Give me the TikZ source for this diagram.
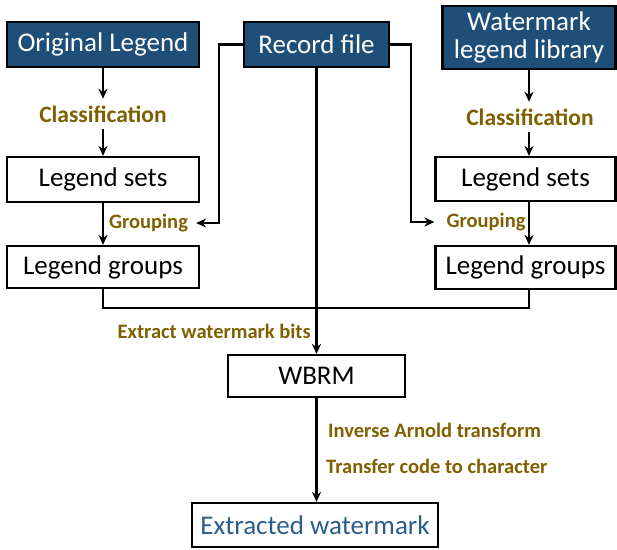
\documentclass[tikz,border=0pt]{standalone}
\usepackage{fontspec}
\setmainfont{Carlito}
\usetikzlibrary{arrows.meta,calc}
\definecolor{boxblue}{HTML}{1F4E79}
\definecolor{lblgold}{HTML}{7F6000}
\definecolor{txtblue}{HTML}{2B5C8C}
\begin{document}
\begin{tikzpicture}[x=1pt,y=-1pt,
  darkbox/.style={draw=black,line width=2.2pt,fill=boxblue,text=white,font=\fontsize{27}{27}\selectfont,inner sep=0pt,align=center},
  whitebox/.style={draw=black,line width=2.2pt,fill=white,text=black,font=\fontsize{27}{27}\selectfont,inner sep=0pt,align=center},
  lbl/.style={text=lblgold,font=\bfseries\fontsize{20.5}{20.5}\selectfont,inner sep=0pt},
  biglbl/.style={text=lblgold,font=\bfseries\fontsize{23.5}{23.5}\selectfont,inner sep=0pt,minimum height=30pt},
  conn/.style={line width=2.2pt,draw=black},
  arr/.style={conn,-{Stealth[length=10pt,width=9pt]}}
]
\useasboundingbox (0,0) rectangle (617,549);
% boxes
\node[darkbox,minimum width=192pt,minimum height=45pt] (OL) at (103,44.5) {Original Legend};
\node[darkbox,minimum width=145pt,minimum height=45pt] (RF) at (316.5,44.5) {Record file};
\node[darkbox,minimum width=173pt,minimum height=63pt,font=\fontsize{27}{28}\selectfont] (WL) at (529,37.5) {Watermark\\legend library};
\node[whitebox,minimum width=192pt,minimum height=45pt] (LSL) at (103,179.5) {Legend sets};
\node[whitebox,minimum width=192pt,minimum height=42pt] (LGL) at (103,267) {Legend groups};
\node[whitebox,minimum width=180pt,minimum height=44pt] (LSR) at (525.5,179) {Legend sets};
\node[whitebox,minimum width=180pt,minimum height=43pt] (LGR) at (525.5,267.5) {Legend groups};
\node[whitebox,minimum width=177pt,minimum height=42pt] (WB) at (316.5,376) {WBRM};
\node[whitebox,minimum width=246pt,minimum height=44pt,text=txtblue] (EW) at (315,525) {Extracted watermark};
% labels
\node[biglbl] (CL) at (103,114) {Classification};
\node[biglbl] (CR) at (530,117) {Classification};
\node[lbl,inner xsep=8pt] (GL) at (148.5,223) {Grouping};
\node[lbl,inner xsep=12pt] (GR) at (486,222) {Grouping};
\node[lbl,anchor=east] (EX) at (311,331) {Extract watermark bits};
\node[lbl,anchor=west] (IA) at (328,430) {Inverse Arnold transform};
\node[lbl,anchor=west] (TC) at (326,466) {Transfer code to character};
% junctions
\coordinate (jl) at (219,223);
\coordinate (jr) at (411,222);
\coordinate (mL) at (103,308);
\coordinate (mR) at (529,308);
\coordinate (mC) at (316.5,308);
% connectors
\draw[arr] (OL.south) -- (CL.north);
\draw[arr] (CL.south) -- (LSL.north);
\draw[arr] (WL.south) -- (CR.north -| WL.south);
\draw[arr] (CR.south -| WL.south) -- (LSR.north -| WL.south);
\draw[arr] (LSL.south) -- (LGL.north);
\draw[arr] (LSR.south -| WL.south) -- (LGR.north -| WL.south);
\draw[arr] (RF.west) -| (jl) -- (GL.east);
\draw[arr] (RF.east) -| (jr) -- (GR.west);
\draw[conn] (LGL.south) -- (mL) -- (mC);
\draw[conn] (LGR.south -| WL.south) -- (mR) -- (mC);
\draw[arr] (RF.south) -- (WB.north);
\draw[arr] (WB.south) -- (EW.north -| WB.south);
\end{tikzpicture}
\end{document}
